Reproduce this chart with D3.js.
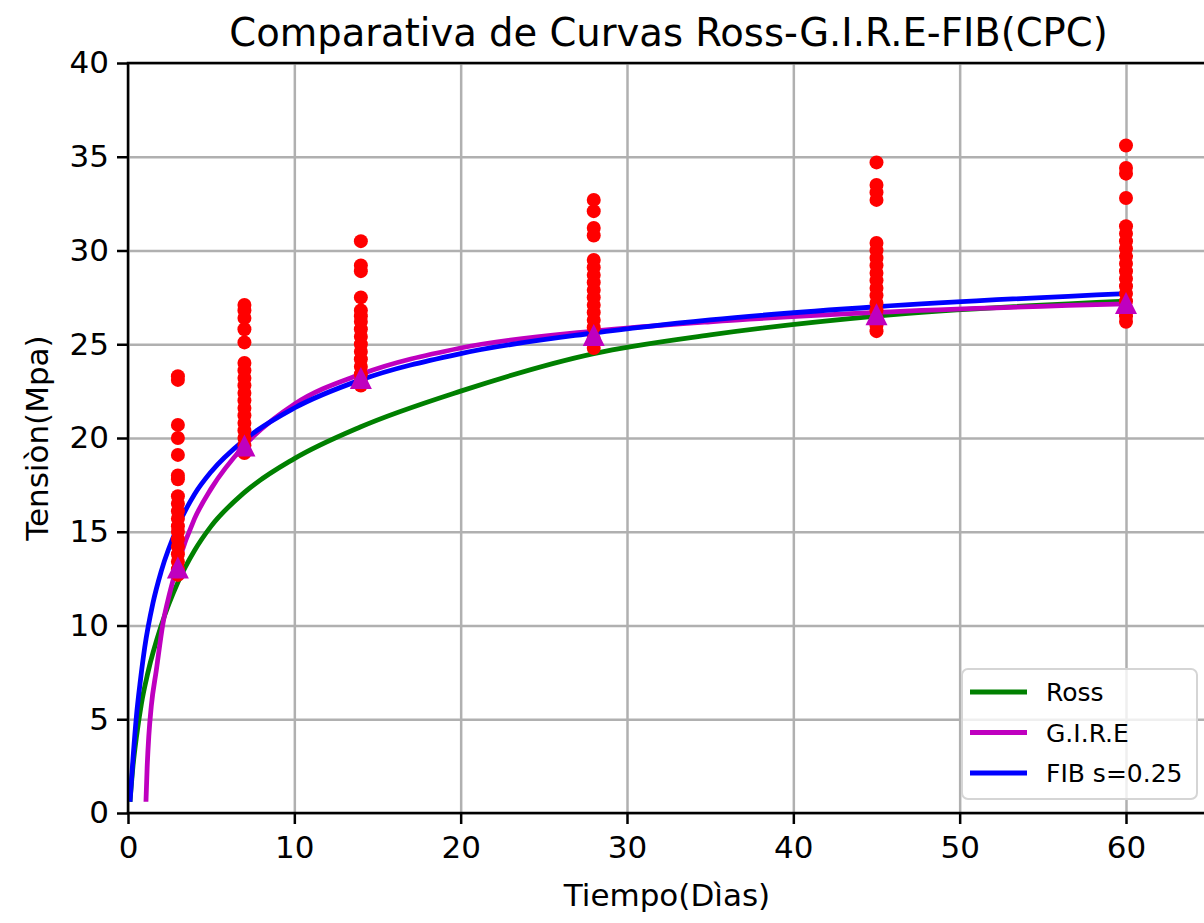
<!DOCTYPE html>
<html>
<head>
<meta charset="utf-8">
<script src="https://cdn.jsdelivr.net/npm/d3@7"></script>
<style>
  body { margin: 0; background: white; }
  svg { font-family: "DejaVu Sans", sans-serif; }
  .grid line { stroke: #b0b0b0; stroke-width: 2.5px; }
  .grid path { display: none; }
  .axis path { display: none; }
  .axis line { stroke: black; stroke-width: 2.5px; }
  .axis text { font-size: 31px; fill: black; font-family: "DejaVu Sans", sans-serif; }
</style>
</head>
<body>
<div id="chart"></div>
<script>
// ages of the tests (days)
var edades = [3, 7, 14, 28, 45, 60];

// measured strengths (Mpa) for each age
var ensayos3  = [23.3, 23.1, 20.7, 20.0, 19.1, 18.0, 17.8, 16.9, 16.5, 16.1, 15.7, 15.3, 15.0, 14.6, 14.2, 13.8, 13.4, 13.0, 12.7];
var ensayos7  = [27.1, 26.8, 26.4, 25.8, 25.1, 24.0, 23.6, 23.2, 22.8, 22.4, 22.0, 21.6, 21.2, 20.8, 20.4, 20.0, 19.6, 19.2];
var ensayos14 = [30.5, 29.2, 28.9, 27.5, 26.8, 26.5, 26.2, 25.8, 25.4, 25.0, 24.6, 24.2, 23.8, 23.4, 23.0, 22.8];
var ensayos28 = [32.7, 32.1, 31.2, 30.8, 29.5, 29.1, 28.7, 28.3, 27.9, 27.5, 27.1, 26.7, 26.3, 25.9, 25.3, 24.8];
var ensayos45 = [34.7, 33.5, 33.1, 32.7, 30.4, 30.0, 29.6, 29.2, 28.8, 28.4, 28.0, 27.6, 27.2, 26.8, 26.4, 26.0, 25.7];
var ensayos60 = [35.6, 34.4, 34.1, 32.8, 31.3, 30.9, 30.5, 30.1, 29.7, 29.3, 28.9, 28.5, 28.1, 27.7, 27.3, 26.9, 26.5, 26.2];

// mean per age (triangles)
var medias = [13.1, 19.6, 23.2, 25.5, 26.6, 27.2];

// curves
var rossT = [0.12, 0.3, 0.5, 0.8, 1.2, 2, 3, 4, 5, 7, 10, 14, 20, 28, 35, 45, 60];
var rossV = [0.6, 2.5, 4.0, 5.8, 7.5, 10.0, 12.3, 14.0, 15.3, 17.1, 18.9, 20.6, 22.5, 24.5, 25.5, 26.5, 27.3];

var gireT = [1.08, 1.15, 1.25, 1.4, 1.7, 2.1, 2.5, 3, 4, 5, 7, 10, 14, 20, 28, 35, 45, 60];
var gireV = [0.6, 2.4, 4.1, 5.7, 7.6, 10.1, 11.7, 13.3, 15.7, 17.3, 19.6, 21.8, 23.4, 24.8, 25.7, 26.2, 26.7, 27.15];

var fibT = [0.12, 0.3, 0.5, 0.75, 1, 1.5, 2, 3, 4, 5, 7, 10, 14, 20, 28, 35, 45, 60];
var fibV = [0.6, 2.9, 5.1, 7.1, 8.8, 11.2, 12.9, 15.3, 17.0, 18.2, 19.9, 21.6, 23.1, 24.5, 25.6, 26.3, 27.0, 27.7];

var xTicks = [0, 10, 20, 30, 40, 50, 60];
var yTicks = [0, 5, 10, 15, 20, 25, 30, 35, 40];

var series = [
    {name: "Ross", t: rossT, v: rossV, color: "#008000"},
    {name: "G.I.R.E", t: gireT, v: gireV, color: "#bf00bf"},
    {name: "FIB s=0.25", t: fibT, v: fibV, color: "#0000ff"}
];

var W = 1204, H = 923;
var margin = {left: 128, top: 63, bottom: 813};

var x = d3.scaleLinear().domain([0, 60]).range([margin.left, 1126]);
var y = d3.scaleLinear().domain([0, 40]).range([margin.bottom, margin.top]);
var xEnd = x(65);
var plotW = xEnd - margin.left;
var plotH = margin.bottom - margin.top;

var svg = d3.select("#chart").append("svg")
    .attr("width", W)
    .attr("height", H);

svg.append("defs").append("clipPath")
    .attr("id", "clip")
    .append("rect")
    .attr("x", margin.left).attr("y", margin.top)
    .attr("width", plotW).attr("height", plotH);

// gridlines
svg.append("g")
    .attr("class", "grid")
    .attr("transform", "translate(0," + margin.bottom + ")")
    .call(d3.axisBottom(x).tickValues(xTicks).tickSize(-plotH).tickFormat(""));
svg.append("g")
    .attr("class", "grid")
    .attr("transform", "translate(" + margin.left + ",0)")
    .call(d3.axisLeft(y).tickValues(yTicks).tickSize(-plotW).tickFormat(""));

// curves
var plot = svg.append("g").attr("clip-path", "url(#clip)");

series.forEach(function(s) {
    plot.append("path")
        .datum(d3.range(s.t.length))
        .attr("fill", "none")
        .attr("stroke", s.color)
        .attr("stroke-width", 4.8)
        .attr("d", d3.line()
              .curve(d3.curveMonotoneX)
              .x(function(i) { return x(s.t[i]); })
              .y(function(i) { return y(s.v[i]); }));
});

// test results
var ensayos = [ensayos3, ensayos7, ensayos14, ensayos28, ensayos45, ensayos60];
ensayos.forEach(function(vals, k) {
    plot.selectAll(null)
        .data(vals)
        .enter().append("circle")
        .attr("cx", x(edades[k]))
        .attr("cy", function(d) { return y(d); })
        .attr("r", 7)
        .attr("fill", "#ff0000");
});

// means
plot.selectAll(null)
    .data(medias)
    .enter().append("path")
    .attr("d", "M0,-11L11,11L-11,11Z")
    .attr("transform", function(d, i) { return "translate(" + x(edades[i]) + "," + y(d) + ")"; })
    .attr("fill", "#bf00bf");

// spines
svg.append("line").attr("x1", margin.left).attr("x2", margin.left).attr("y1", margin.top).attr("y2", margin.bottom)
    .attr("stroke", "black").attr("stroke-width", 2.5);
svg.append("line").attr("x1", margin.left - 1.25).attr("x2", xEnd).attr("y1", margin.bottom).attr("y2", margin.bottom)
    .attr("stroke", "black").attr("stroke-width", 2.5);
svg.append("line").attr("x1", margin.left - 1.25).attr("x2", xEnd).attr("y1", margin.top).attr("y2", margin.top)
    .attr("stroke", "black").attr("stroke-width", 2.5);

// axes
svg.append("g")
    .attr("class", "axis")
    .attr("transform", "translate(0," + margin.bottom + ")")
    .call(d3.axisBottom(x).tickValues(xTicks).tickSize(11).tickPadding(12));

svg.append("g")
    .attr("class", "axis")
    .attr("transform", "translate(" + margin.left + ",0)")
    .call(d3.axisLeft(y).tickValues(yTicks).tickSize(11).tickPadding(8));

// titles
svg.append("text")
    .attr("x", (226 + 1111) / 2)
    .attr("y", 46)
    .attr("text-anchor", "middle")
    .style("font-size", "38.5px")
    .text("Comparativa de Curvas Ross-G.I.R.E-FIB(CPC)");

svg.append("text")
    .attr("x", 667)
    .attr("y", 906)
    .attr("text-anchor", "middle")
    .style("font-size", "31px")
    .text("Tiempo(Dìas)");

svg.append("text")
    .attr("transform", "translate(48," + ((margin.top + margin.bottom) / 2) + ") rotate(-90)")
    .attr("text-anchor", "middle")
    .style("font-size", "31px")
    .text("Tensiòn(Mpa)");

// legend
var lg = svg.append("g").attr("transform", "translate(962,669)");
lg.append("rect")
    .attr("width", 235)
    .attr("height", 130)
    .attr("rx", 6)
    .attr("fill", "white")
    .attr("fill-opacity", 0.8)
    .attr("stroke", "#d5d5d5")
    .attr("stroke-width", 2);

series.forEach(function(s, i) {
    lg.append("line")
        .attr("x1", 8).attr("x2", 65)
        .attr("y1", 23 + i * 40.5).attr("y2", 23 + i * 40.5)
        .attr("stroke", s.color)
        .attr("stroke-width", 4.8);
    lg.append("text")
        .attr("x", 84)
        .attr("y", 32 + i * 40.5)
        .style("font-size", "25px")
        .text(s.name);
});
</script>
</body>
</html>
